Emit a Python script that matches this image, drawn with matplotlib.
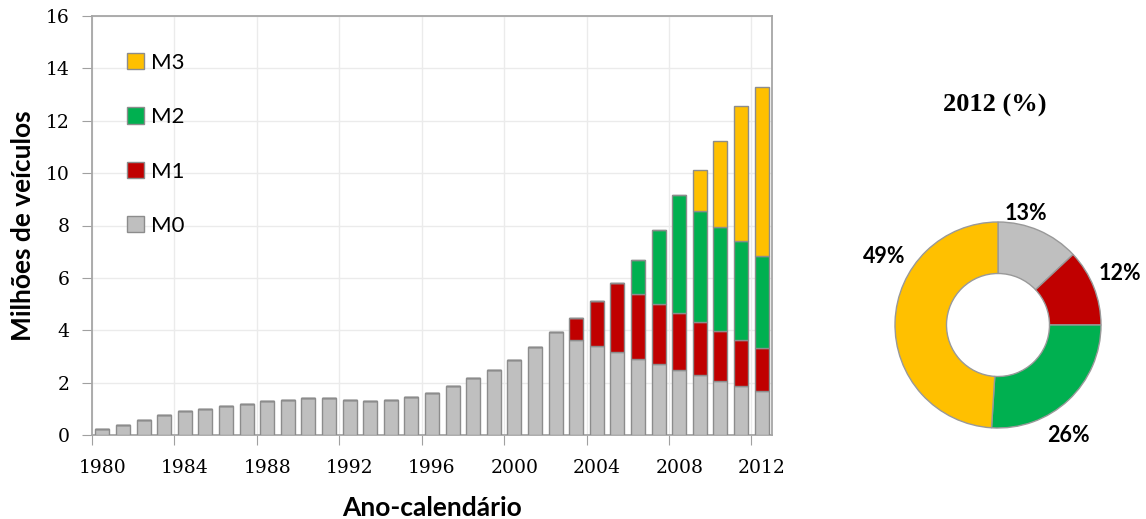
import matplotlib.pyplot as plt
import numpy as np

# data
years = list(range(1980, 2013))
m0 = [0.23, 0.38, 0.57, 0.76, 0.91, 1.01, 1.11, 1.20, 1.30, 1.35, 1.40, 1.40,
      1.35, 1.30, 1.35, 1.45, 1.59, 1.88, 2.19, 2.48, 2.86, 3.36, 3.94, 3.64,
      3.41, 3.17, 2.91, 2.72, 2.48, 2.28, 2.07, 1.88, 1.69]
m1 = [0] * 23 + [0.84, 1.71, 2.62, 2.49, 2.28, 2.18, 2.04, 1.90, 1.76, 1.64]
m2 = [0] * 26 + [1.29, 2.81, 4.52, 4.23, 3.98, 3.78, 3.50]
m3 = [0] * 29 + [1.56, 3.28, 5.14, 6.46]

# donut 2012 (%), clockwise from the top: M0, M1, M2, M3
share_labels = ['13%', '12%', '26%', '49%']
share_values = [13, 12, 26, 49]

c_m0 = '#BFBFBF'
c_m1 = '#C00000'
c_m2 = '#00B050'
c_m3 = '#FFC000'
edge = '#8C8C8C'

fig = plt.figure(figsize=(11.46, 5.19), dpi=100)

# bar chart
ax = fig.add_axes([92 / 1146, 84 / 519, 680 / 1146, 419 / 519])
x = np.arange(len(years))
w = 0.68
b1 = np.array(m0)
b2 = b1 + np.array(m1)
b3 = b2 + np.array(m2)
ax.bar(x, m0, w, color=c_m0, edgecolor=edge, linewidth=1, label='M0', zorder=3)
ax.bar(x, m1, w, bottom=b1, color=c_m1, edgecolor=edge, linewidth=1, label='M1', zorder=3)
ax.bar(x, m2, w, bottom=b2, color=c_m2, edgecolor=edge, linewidth=1, label='M2', zorder=3)
ax.bar(x, m3, w, bottom=b3, color=c_m3, edgecolor=edge, linewidth=1, label='M3', zorder=3)

ax.set_xlim(-0.5, len(years) - 0.5)
ax.set_ylim(0, 16)
ax.set_yticks(range(0, 17, 2))
ax.set_xticks(np.arange(-0.5, len(years), 4))
ax.set_xticklabels([])
ax.set_xticks(np.arange(0, len(years), 4), minor=True)
ax.set_xticklabels([str(y) for y in years[::4]], minor=True)

for lab in ax.get_yticklabels() + ax.get_xticklabels(minor=True):
    lab.set_fontfamily('DejaVu Serif')
    lab.set_fontsize(13.5)
ax.tick_params(axis='x', which='minor', length=0, pad=17)
ax.tick_params(axis='x', which='major', length=7, color='#A0A0A0', direction='out')
ax.tick_params(axis='y', length=7, color='#A0A0A0', direction='out', pad=9)

ax.grid(True, color='#EBEBEB', linewidth=1, zorder=0)
for s in ax.spines.values():
    s.set_color('#A6A6A6')
    s.set_linewidth(1.3)

ax.set_ylabel('Milhões de veículos', fontfamily='Lato', fontweight='bold',
              fontsize=19, labelpad=8)
ax.set_xlabel('Ano-calendário', fontfamily='Lato', fontweight='bold',
              fontsize=19, labelpad=14)

handles, labels = ax.get_legend_handles_labels()
leg = ax.legend(handles[::-1], labels[::-1], loc='upper left',
                bbox_to_anchor=(0.022, 0.96), frameon=False,
                prop=dict(family='Lato', size=16), labelspacing=1.55,
                handlelength=0.75, handleheight=0.75, handletextpad=0.35)

# donut chart
R = 103
side = 2.5 * R
ax2 = fig.add_axes([(998 - side / 2) / 1146, (519 - 325 - side / 2) / 519,
                    side / 1146, side / 519])
ax2.pie(share_values, colors=[c_m0, c_m1, c_m2, c_m3], startangle=90,
        counterclock=False, radius=1,
        wedgeprops=dict(width=0.5, edgecolor='#999999', linewidth=1))
ax2.set_xlim(-1.25, 1.25)
ax2.set_ylim(-1.25, 1.25)
ax2.set_aspect('equal')

# label positions (angle in degrees, distance in radii)
label_pos = [(76, 1.12), (23, 1.29), (-57.5, 1.27), (149, 1.29)]
for txt, (ang, dist) in zip(share_labels, label_pos):
    a = np.deg2rad(ang)
    ax2.text(dist * np.cos(a), dist * np.sin(a), txt, ha='center', va='center',
             fontfamily='Lato', fontweight='bold', fontsize=15.5)

fig.text(995 / 1146, 1 - 105 / 519, '2012 (%)', ha='center', va='center',
         fontfamily='Liberation Serif', fontweight='bold', fontsize=19)

plt.savefig('out.png', dpi=100)
